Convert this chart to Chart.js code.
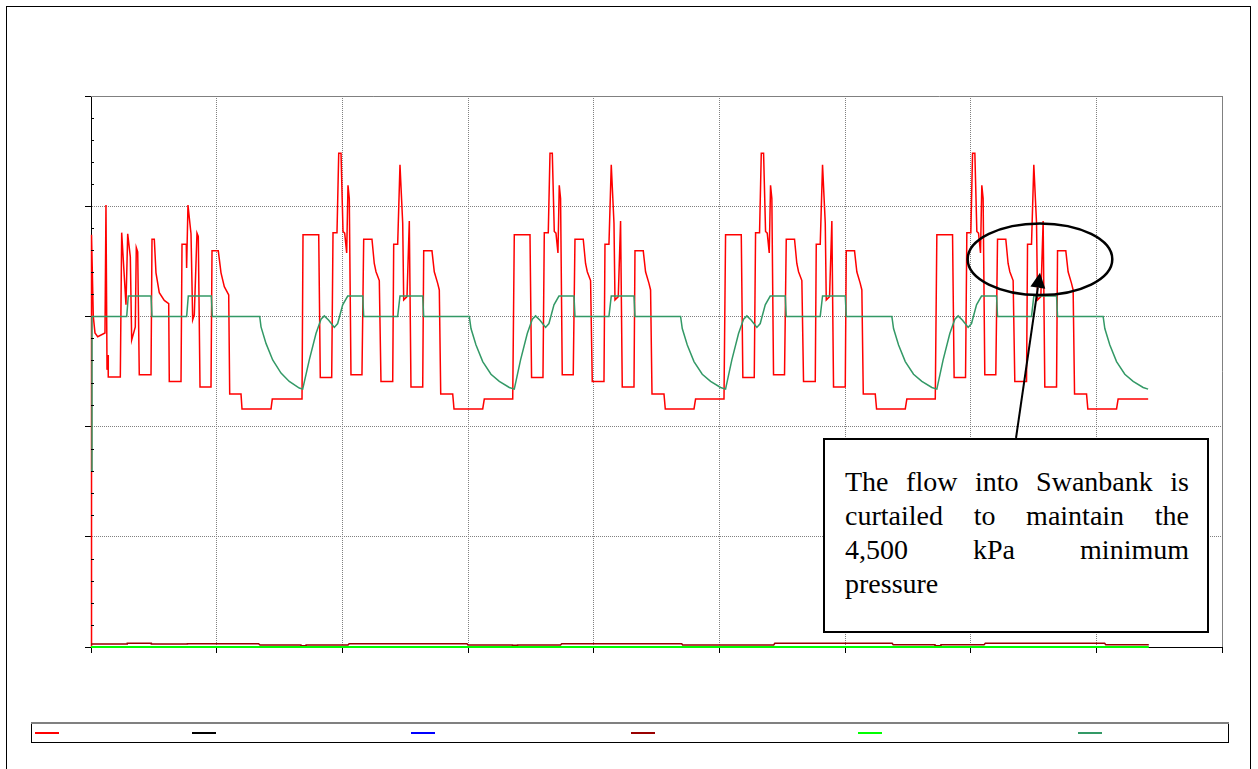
<!DOCTYPE html>
<html>
<head>
<meta charset="utf-8">
<script src="https://cdn.jsdelivr.net/npm/chart.js@4.4.1/dist/chart.umd.min.js"></script>
<style>
  body { margin: 0; background: #fff; }
  #wrap { position: relative; width: 1258px; height: 769px; }
  #note {
    position: absolute; left: 823px; top: 438px; width: 386px; height: 195px;
    box-sizing: border-box; border: 2px solid #000; background: #fff;
    padding: 25px 18px 0 20px;
    font-family: "Liberation Serif", "Times New Roman", serif;
    font-size: 28px; line-height: 34px; color: #000;
  }
  #note div { text-align: justify; text-align-last: justify; }
  #note div.last { text-align-last: left; }
</style>
</head>
<body>
<div id="wrap">
  <canvas id="gasChart" width="1258" height="769"></canvas>
  <div id="note">
    <div>The flow into Swanbank is</div>
    <div>curtailed to maintain the</div>
    <div>4,500 kPa minimum</div>
    <div class="last">pressure</div>
  </div>
</div>
<script>
// x in hours (gridline every 24 h), y in kPa
const xTicks = [0, 24, 48, 72, 96, 120, 144, 168, 192, 216];
const yTicks = [0, 400, 800, 1200, 1600, 2000, 2400, 2800, 3200, 3600, 4000, 4400, 4800, 5200,
                5600, 6000, 6400, 6800, 7200, 7600, 8000, 8400, 8800, 9200, 9600, 10000];

// red series - one line per cycle
const redHours = [
  0, 0.1, 0.44, 0.76, 1.28, 2.67, 2.86, 3.06, 3.25, 3.30, 5.60, 5.86, 6.68, 7.01, 7.51, 7.77, 8.46, 8.65, 8.92, 9.22, 11.46, 11.65, 12.09, 12.41, 13.04, 14.00, 14.84, 14.95, 17.19, 17.38, 18.20, 18.26, 18.52, 19.10, 19.42, 19.73, 20.24, 20.49, 20.82, 22.92, 23.11, 24.31, 24.83, 25.46, 26.30, 26.49, 28.65, 28.84, 34.38, 34.62, 40.30,
  40.49, 43.49, 43.79, 45.97, 46.22, 46.98, 47.31, 47.75, 48.13, 48.45, 48.83, 49.08, 49.33, 49.65, 51.75, 52.08, 53.66, 54.10, 54.43, 55.06, 55.38, 57.62, 57.81, 58.57, 59.01, 59.53, 59.72, 60.35, 60.79, 61.11, 63.35, 63.54, 65.12, 65.56, 66.21, 66.52, 66.79, 69.08, 69.33, 74.81, 75.11, 80.54,
  80.84, 83.84, 84.14, 86.32, 86.57, 87.33, 87.66, 88.10, 88.48, 88.80, 89.18, 89.43, 89.68, 90.00, 92.10, 92.43, 94.01, 94.45, 94.78, 95.41, 95.73, 97.97, 98.16, 98.92, 99.36, 99.88, 100.07, 100.70, 101.14, 101.46, 103.70, 103.89, 105.47, 105.91, 106.56, 106.87, 107.14, 109.43, 109.68, 115.16, 115.46, 120.89,
  121.19, 124.19, 124.49, 126.67, 126.92, 127.68, 128.01, 128.45, 128.83, 129.15, 129.53, 129.78, 130.03, 130.35, 132.45, 132.78, 134.36, 134.80, 135.13, 135.76, 136.08, 138.32, 138.51, 139.27, 139.71, 140.23, 140.42, 141.05, 141.49, 141.81, 144.05, 144.24, 145.82, 146.26, 146.91, 147.22, 147.49, 149.78, 150.03, 155.51, 155.81, 161.24,
  161.54, 164.54, 164.84, 167.02, 167.27, 168.03, 168.36, 168.80, 169.18, 169.50, 169.88, 170.13, 170.38, 170.70, 172.80, 173.13, 174.71, 175.15, 175.48, 176.11, 176.43, 178.67, 178.86, 179.62, 180.06, 180.58, 180.77, 181.40, 181.84, 182.16, 184.40, 184.59, 186.17, 186.61, 187.26, 187.57, 187.84, 190.13, 190.38, 195.86, 196.16, 201.90
];
const redKpa = [
  0, 7480, 6000, 5700, 5630, 5700, 8020, 5030, 5300, 4900, 4900, 7520, 6210, 7500, 7080, 5570, 5810, 7250, 7170, 4940, 4940, 7400, 7400, 6790, 6430, 6290, 6230, 4820, 4820, 7310, 7310, 6880, 8020, 7500, 5940, 6030, 7510, 7450, 4720, 4720, 7190, 7190, 6790, 6540, 6390, 4590, 4590, 4320, 4320, 4500, 4500,
  7480, 7480, 4890, 4890, 7520, 7520, 8960, 8960, 7540, 7510, 7150, 8380, 8140, 4940, 4940, 7400, 7400, 6960, 6810, 6650, 4820, 4820, 7310, 7310, 8750, 7690, 6300, 6360, 7730, 4720, 4720, 7190, 7190, 6810, 6600, 6480, 4590, 4590, 4320, 4320, 4500, 4500,
  7480, 7480, 4890, 4890, 7520, 7520, 8960, 8960, 7540, 7510, 7150, 8380, 8140, 4940, 4940, 7400, 7400, 6960, 6810, 6650, 4820, 4820, 7310, 7310, 8750, 7690, 6300, 6360, 7730, 4720, 4720, 7190, 7190, 6810, 6600, 6480, 4590, 4590, 4320, 4320, 4500, 4500,
  7480, 7480, 4890, 4890, 7520, 7520, 8960, 8960, 7540, 7510, 7150, 8380, 8140, 4940, 4940, 7400, 7400, 6960, 6810, 6650, 4820, 4820, 7310, 7310, 8750, 7690, 6300, 6360, 7730, 4720, 4720, 7190, 7190, 6810, 6600, 6480, 4590, 4590, 4320, 4320, 4500, 4500,
  7480, 7480, 4890, 4890, 7520, 7520, 8960, 8960, 7540, 7510, 7150, 8380, 8140, 4940, 4940, 7400, 7400, 6960, 6810, 6650, 4820, 4820, 7310, 7310, 8750, 7690, 6300, 6360, 7730, 4720, 4720, 7190, 7190, 6810, 6600, 6480, 4590, 4590, 4320, 4320, 4500, 4500
];

// sea green series
const seaHours = [
  0, 0.19, 6.82, 7.12, 11.46, 11.65, 18.27, 18.58, 22.98, 23.17, 32.22, 32.47, 33.42, 34.70, 36.29, 37.87, 39.78, 40.43,
  41.69, 42.97, 43.93, 44.56, 45.40, 46.47, 47.11, 48.07, 49.02, 51.89, 52.08, 58.57, 59.01, 63.35, 63.54, 72.25, 72.57, 73.53, 74.81, 76.39, 77.98, 79.89, 80.84,
  82.04, 83.32, 84.28, 84.91, 85.75, 86.82, 87.46, 88.42, 89.37, 92.24, 92.43, 98.92, 99.36, 103.70, 103.89, 112.60, 112.92, 113.88, 115.16, 116.74, 118.33, 120.24, 121.19,
  122.39, 123.67, 124.63, 125.26, 126.10, 127.17, 127.81, 128.77, 129.72, 132.59, 132.78, 139.27, 139.71, 144.05, 144.24, 152.95, 153.27, 154.23, 155.51, 157.09, 158.68, 160.59, 161.54,
  162.74, 164.02, 164.98, 165.61, 166.45, 167.52, 168.16, 169.12, 170.07, 172.94, 173.13, 179.62, 180.06, 184.40, 184.59, 193.30, 193.62, 194.58, 195.86, 197.44, 199.03, 200.94, 201.89
];
const seaKpa = [
  3210, 6000, 6000, 6370, 6370, 6000, 6000, 6370, 6370, 6000, 6000, 5810, 5510, 5210, 4970, 4820, 4700, 4680,
  5210, 5690, 5950, 6010, 5930, 5800, 5870, 6210, 6370, 6370, 6000, 6000, 6370, 6370, 6000, 6000, 5780, 5480, 5180, 4950, 4820, 4710, 4680,
  5210, 5690, 5950, 6010, 5930, 5800, 5870, 6210, 6370, 6370, 6000, 6000, 6370, 6370, 6000, 6000, 5780, 5480, 5180, 4950, 4820, 4710, 4680,
  5210, 5690, 5950, 6010, 5930, 5800, 5870, 6210, 6370, 6370, 6000, 6000, 6370, 6370, 6000, 6000, 5780, 5480, 5180, 4950, 4820, 4710, 4680,
  5210, 5690, 5950, 6010, 5930, 5800, 5870, 6210, 6370, 6370, 6000, 6000, 6370, 6370, 6000, 6000, 5780, 5480, 5180, 4950, 4820, 4710, 4680
];

// dark red series near the bottom
const darkRedHours = [0, 6.93, 6.93, 11.52, 11.52, 18.41, 18.41, 32.01, 32.28, 40.09, 40.09, 41.08, 41.08, 49.08, 49.3, 71.81, 72.0, 80.48, 80.48, 81.47,
                      81.47, 89.67, 89.9, 112.81, 113.0, 130.38, 130.6, 153.01, 153.2, 161.19, 161.19, 162.33, 162.33, 170.56, 170.8, 193.59, 193.8, 202.02];
const darkRedKpa = [54, 54, 67, 67, 54, 54, 60, 60, 36, 36, 24, 24, 36, 36, 60, 60, 36, 36, 30, 30,
                    36, 36, 60, 60, 36, 36, 67, 67, 42, 42, 24, 24, 42, 42, 67, 67, 42, 42];

// bright green sits on zero
const brightHours = [0, 202.02];
const brightKpa = [0, 0];

// black and blue series show only in the legend
const blackHours = [], blackKpa = [];
const blueHours = [], blueKpa = [];

// annotation anchors (data units)
const ringCentre = [181.24, 7038];
const ringRadius = [13.81, 650];
const arrowTail = [176.66, 3793];
const arrowTip = [181.24, 6793];

function toPoints(hours, kpa) {
  return hours.map((h, i) => ({ x: h, y: kpa[i] }));
}

const legendX = [35, 192, 411, 631, 858, 1078];

const decor = {
  id: 'decor',
  beforeDraw(chart) {
    const ctx = chart.ctx;
    ctx.save();
    ctx.fillStyle = '#fff';
    ctx.fillRect(0, 0, chart.width, chart.height);
    ctx.restore();
  },
  afterDraw(chart) {
    const { ctx, chartArea: a, scales: { x, y } } = chart;
    ctx.save();

    // top and right edges of the plot
    ctx.strokeStyle = '#808080';
    ctx.lineWidth = 1;
    ctx.beginPath();
    ctx.moveTo(a.left, Math.round(a.top) + 0.5);
    ctx.lineTo(a.right + 0.5, Math.round(a.top) + 0.5);
    ctx.lineTo(Math.round(a.right) + 0.5, a.bottom);
    ctx.stroke();

    // minor ticks inside the y axis
    ctx.strokeStyle = '#000';
    ctx.beginPath();
    yTicks.forEach(v => {
      if (v % 2000 === 0) return;
      const py = Math.round(y.getPixelForValue(v)) + 0.5;
      ctx.moveTo(a.left, py);
      ctx.lineTo(a.left + 3, py);
    });
    ctx.stroke();

    // ellipse
    const cx = x.getPixelForValue(ringCentre[0]);
    const cy = y.getPixelForValue(ringCentre[1]);
    const rx = x.getPixelForValue(ringCentre[0] + ringRadius[0]) - cx;
    const ry = cy - y.getPixelForValue(ringCentre[1] + ringRadius[1]);
    ctx.lineWidth = 2.5;
    ctx.beginPath();
    ctx.ellipse(cx, cy, rx, ry, 0, 0, Math.PI * 2);
    ctx.stroke();

    // arrow
    const x0 = x.getPixelForValue(arrowTail[0]), y0 = y.getPixelForValue(arrowTail[1]);
    const x1 = x.getPixelForValue(arrowTip[0]), y1 = y.getPixelForValue(arrowTip[1]);
    const ang = Math.atan2(y1 - y0, x1 - x0);
    const bx = x1 - 15 * Math.cos(ang), by = y1 - 15 * Math.sin(ang);
    ctx.lineWidth = 2;
    ctx.beginPath();
    ctx.moveTo(x0, y0);
    ctx.lineTo(bx, by);
    ctx.stroke();
    ctx.fillStyle = '#000';
    ctx.beginPath();
    ctx.moveTo(x1, y1);
    ctx.lineTo(bx + 7.5 * Math.sin(ang), by - 7.5 * Math.cos(ang));
    ctx.lineTo(bx - 7.5 * Math.sin(ang), by + 7.5 * Math.cos(ang));
    ctx.closePath();
    ctx.fill();

    // legend box
    ctx.lineWidth = 1;
    ctx.strokeStyle = '#000';
    ctx.strokeRect(31.5, 723.5, 1197, 19);
    ctx.strokeStyle = '#808080';
    ctx.lineWidth = 2;
    ctx.beginPath();
    ctx.moveTo(31, 723);
    ctx.lineTo(1229, 723);
    ctx.stroke();
    chart.data.datasets.forEach((ds, i) => {
      ctx.strokeStyle = ds.borderColor;
      ctx.lineWidth = 2;
      ctx.beginPath();
      ctx.moveTo(legendX[i], 733);
      ctx.lineTo(legendX[i] + 24, 733);
      ctx.stroke();
    });

    // outer frame
    ctx.strokeStyle = '#000';
    ctx.lineWidth = 1;
    ctx.strokeRect(6.5, 6.5, 1244, 780);
    ctx.restore();
  }
};

const majorOnly = (val, on, off) => ctx => (ctx.tick && ctx.tick.value % val === 0 ? on : off);

new Chart(document.getElementById('gasChart'), {
  type: 'line',
  data: {
    datasets: [
      { label: '', data: toPoints(redHours, redKpa), borderColor: '#ff0000', borderWidth: 1.5, order: 5 },
      { label: '', data: toPoints(blackHours, blackKpa), borderColor: '#000000', borderWidth: 1.5, order: 4 },
      { label: '', data: toPoints(blueHours, blueKpa), borderColor: '#0000ff', borderWidth: 1.5, order: 3 },
      { label: '', data: toPoints(darkRedHours, darkRedKpa), borderColor: '#990000', borderWidth: 1.5, order: 2 },
      { label: '', data: toPoints(brightHours, brightKpa), borderColor: '#00ff00', borderWidth: 2, order: 1 },
      { label: '', data: toPoints(seaHours, seaKpa), borderColor: '#339966', borderWidth: 1.5, order: 0 }
    ]
  },
  options: {
    responsive: false,
    animation: false,
    layout: { padding: { left: 85, top: 96, right: 36, bottom: 116 } },
    plugins: { legend: { display: false }, tooltip: { enabled: false } },
    elements: { point: { radius: 0 }, line: { tension: 0, fill: false } },
    datasets: { line: { clip: false } },
    scales: {
      x: {
        type: 'linear', min: 0, max: 216,
        afterBuildTicks: s => { s.ticks = xTicks.map(v => ({ value: v })); },
        afterFit: s => { s.height = 6; },
        ticks: { display: false },
        grid: { color: '#808080', tickColor: '#000', tickLength: 6 },
        border: { color: '#000', width: 1, dash: [1, 1] }
      },
      y: {
        type: 'linear', min: 0, max: 10000,
        afterBuildTicks: s => { s.ticks = yTicks.map(v => ({ value: v })); },
        afterFit: s => { s.width = 6; },
        ticks: { display: false },
        grid: {
          color: majorOnly(2000, '#808080', 'rgba(0,0,0,0)'),
          tickColor: majorOnly(2000, '#000', 'rgba(0,0,0,0)'),
          tickLength: 6
        },
        border: { color: '#000', width: 1, dash: [1, 1] }
      }
    }
  },
  plugins: [decor]
});
</script>
</body>
</html>
